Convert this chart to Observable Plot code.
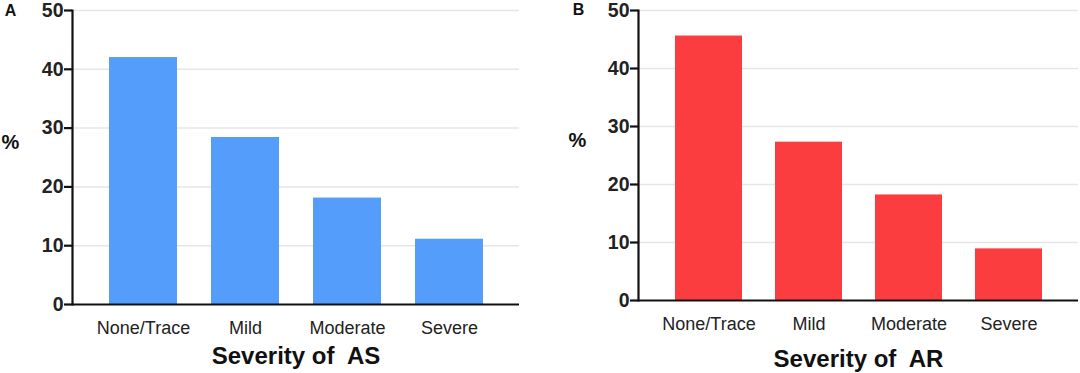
<!DOCTYPE html>
<html>
<head>
<meta charset="utf-8">
<script src="https://cdn.jsdelivr.net/npm/d3@7"></script>
<script src="https://cdn.jsdelivr.net/npm/@observablehq/plot@0.6"></script>
<style>
  html, body { margin: 0; padding: 0; background: #fff; }
  #wrap { display: flex; width: 1080px; height: 373px; }
  svg { display: block; }
</style>
</head>
<body>
<div id="wrap"></div>
<script>
const categories = ["None/Trace", "Mild", "Moderate", "Severe"];
const asValues = [42.0, 28.4, 18.1, 11.1];
const arValues = [45.6, 27.3, 18.2, 8.9];
const yTicks = [0, 10, 20, 30, 40, 50];
const panelLabels = ["A", "B"];
const axisTitles = ["Severity of\u00a0 AS", "Severity of\u00a0 AR"];
const yLabel = "%";

const font = "'Liberation Sans', Arial, Helvetica, sans-serif";

function panel(values, color, letter, title, m) {
  const data = categories.map((c, i) => ({category: c, value: values[i]}));
  return Plot.plot({
    width: 540,
    height: 373,
    marginLeft: m.left,
    marginRight: m.right,
    marginTop: m.top,
    marginBottom: m.bottom,
    style: {fontFamily: font, background: "#fff", overflow: "visible"},
    x: {domain: categories, paddingInner: 0.335, paddingOuter: 0.352, align: 0.5, label: null},
    y: {domain: [0, 50], label: null},
    marks: [
      Plot.gridY(yTicks.filter(d => d > 0), {stroke: "#e6e6e6", strokeOpacity: 1, strokeWidth: 1.5}),
      Plot.barY(data, {x: "category", y: "value", fill: color}),
      Plot.ruleY([0], {stroke: "#111", strokeWidth: 2.2}),
      Plot.frame({anchor: "left", stroke: "#111", strokeWidth: 2.2}),
      Plot.axisY({ticks: yTicks, tickSize: 8, tickPadding: 1, strokeWidth: 2.2, stroke: "#111",
        fontSize: 19.5, fontWeight: "bold", fill: "#222", label: null}),
      Plot.axisX({tickSize: 0, tickPadding: 17, fontSize: 18, fill: "#222", label: null}),
      Plot.text([title], {frameAnchor: "bottom", dy: m.titleDy, lineAnchor: "middle",
        fontSize: 24, fontWeight: "bold", fill: "#111"}),
      Plot.text([yLabel], {frameAnchor: "left", dx: m.pctDx, dy: m.pctDy, lineAnchor: "middle",
        textAnchor: "middle", fontSize: 20, fontWeight: "bold", fill: "#111"}),
      Plot.text([letter], {frameAnchor: "top-left", dx: m.letterDx, dy: m.letterDy, lineAnchor: "middle",
        textAnchor: "middle", fontSize: 16, fontWeight: "bold", fill: "#111"})
    ]
  });
}

const wrap = document.getElementById("wrap");
wrap.appendChild(panel(asValues, "#559dfb", panelLabels[0], axisTitles[0],
  {left: 72, right: 21, top: 10, bottom: 69, titleDy: 52, pctDx: -62, pctDy: -15, letterDx: -62, letterDy: 0}));
wrap.appendChild(panel(arValues, "#fb3d40", panelLabels[1], axisTitles[1],
  {left: 98, right: 2, top: 10, bottom: 73, titleDy: 59, pctDx: -61, pctDy: -15, letterDx: -60, letterDy: -1}));
</script>
</body>
</html>
